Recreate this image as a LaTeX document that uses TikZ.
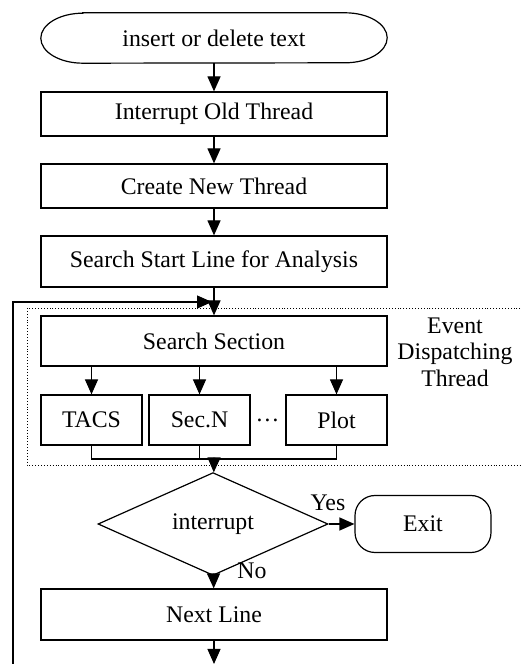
\documentclass[tikz,border=0pt]{standalone}
\usepackage{fontspec}
\setmainfont{Liberation Serif}
\usetikzlibrary{shapes.geometric,arrows.meta}
\begin{document}
\begin{tikzpicture}[x=1pt,y=1pt,
  every node/.style={font=\fontsize{23.8}{26.5}\selectfont},
  proc/.style={draw,line width=1.2pt,rectangle,inner sep=0pt,minimum width=346pt,minimum height=44pt},
  sub/.style={proc,minimum width=101pt,minimum height=50pt},
  decide/.style={draw,line width=1.2pt,diamond,inner sep=0pt,minimum width=230pt,minimum height=71pt},
  term/.style={draw,line width=1.2pt,rectangle,rounded corners=20pt,inner sep=0pt,minimum width=136pt,minimum height=57pt},
  flow/.style={line width=1.2pt,-{Triangle[length=15pt,width=13pt]}},
  link/.style={line width=1.2pt}]
\useasboundingbox (0,0) rectangle (521,664);

% thread region
\draw[line width=0.9pt,dotted] (27,356) rectangle (540,199);
\node[align=center] (edt) at (455,312) {Event\\Dispatching\\Thread};

% start terminal with elliptical ends
\node[inner sep=0pt,minimum width=346pt,minimum height=50pt] (start) at (214,626) {insert or delete text};
\draw[link] ([xshift=42pt]start.north west) -- ([xshift=-42pt]start.north east)
  arc[start angle=90,end angle=-90,x radius=42pt,y radius=25pt]
  -- ([xshift=42pt]start.south west)
  arc[start angle=270,end angle=90,x radius=42pt,y radius=25pt] -- cycle;

\node[proc] (b1) at (214,550) {Interrupt Old Thread};
\node[proc] (b2) at (214,478) {Create New Thread};
\node[proc,minimum height=51pt] (b3) at (214,402.5) {Search Start Line for Analysis};
\coordinate (join) at (214,362);
\node[proc,minimum height=50pt] (sec) at (214,323) {Search Section};
\node[sub] (tacs) at (91.5,244) {TACS};
\node[sub] (secn) at (199.5,244) {Sec.N};
\node[sub] (plot) at (336.5,244) {Plot};
\node (dots) at (267.5,244) {\dots};
\coordinate (merge) at (214,205);
\node[decide] (dec) at (213,140) {interrupt};
\node[term] (exit) at (423,140) {Exit};
\node[proc,minimum height=51pt] (next) at (214,49.5) {Next Line};
\coordinate (out) at (214,0);
\coordinate (loopbase) at (13,-2);
\coordinate (loopturn) at (13,362);

% branch labels
\node (yes) at (328,161) {Yes};
\node (no) at (252,93) {No};

% main flow
\draw[flow] (start) -- (b1);
\draw[flow] (b1) -- (b2);
\draw[flow] (b2) -- (b3);
\draw[flow] (b3) -- (sec);
\draw[flow] (sec.south -| tacs) -- (tacs);
\draw[flow] (sec.south -| secn) -- (secn);
\draw[flow] (sec.south -| plot) -- (plot);
\draw[link] (tacs.south) -- (tacs.south |- merge) -- (plot.south |- merge) -- (plot.south);
\draw[link] (secn.south) -- (secn.south |- merge);
\draw[flow] (merge) -- (dec);
\draw[flow] (dec) -- (exit);
\draw[flow] (dec) -- (next);
\draw[flow] (next) -- (out);

% loop back
\draw[flow] (loopbase) -- (loopturn) -- ([xshift=-2pt]join);
\end{tikzpicture}
\end{document}
